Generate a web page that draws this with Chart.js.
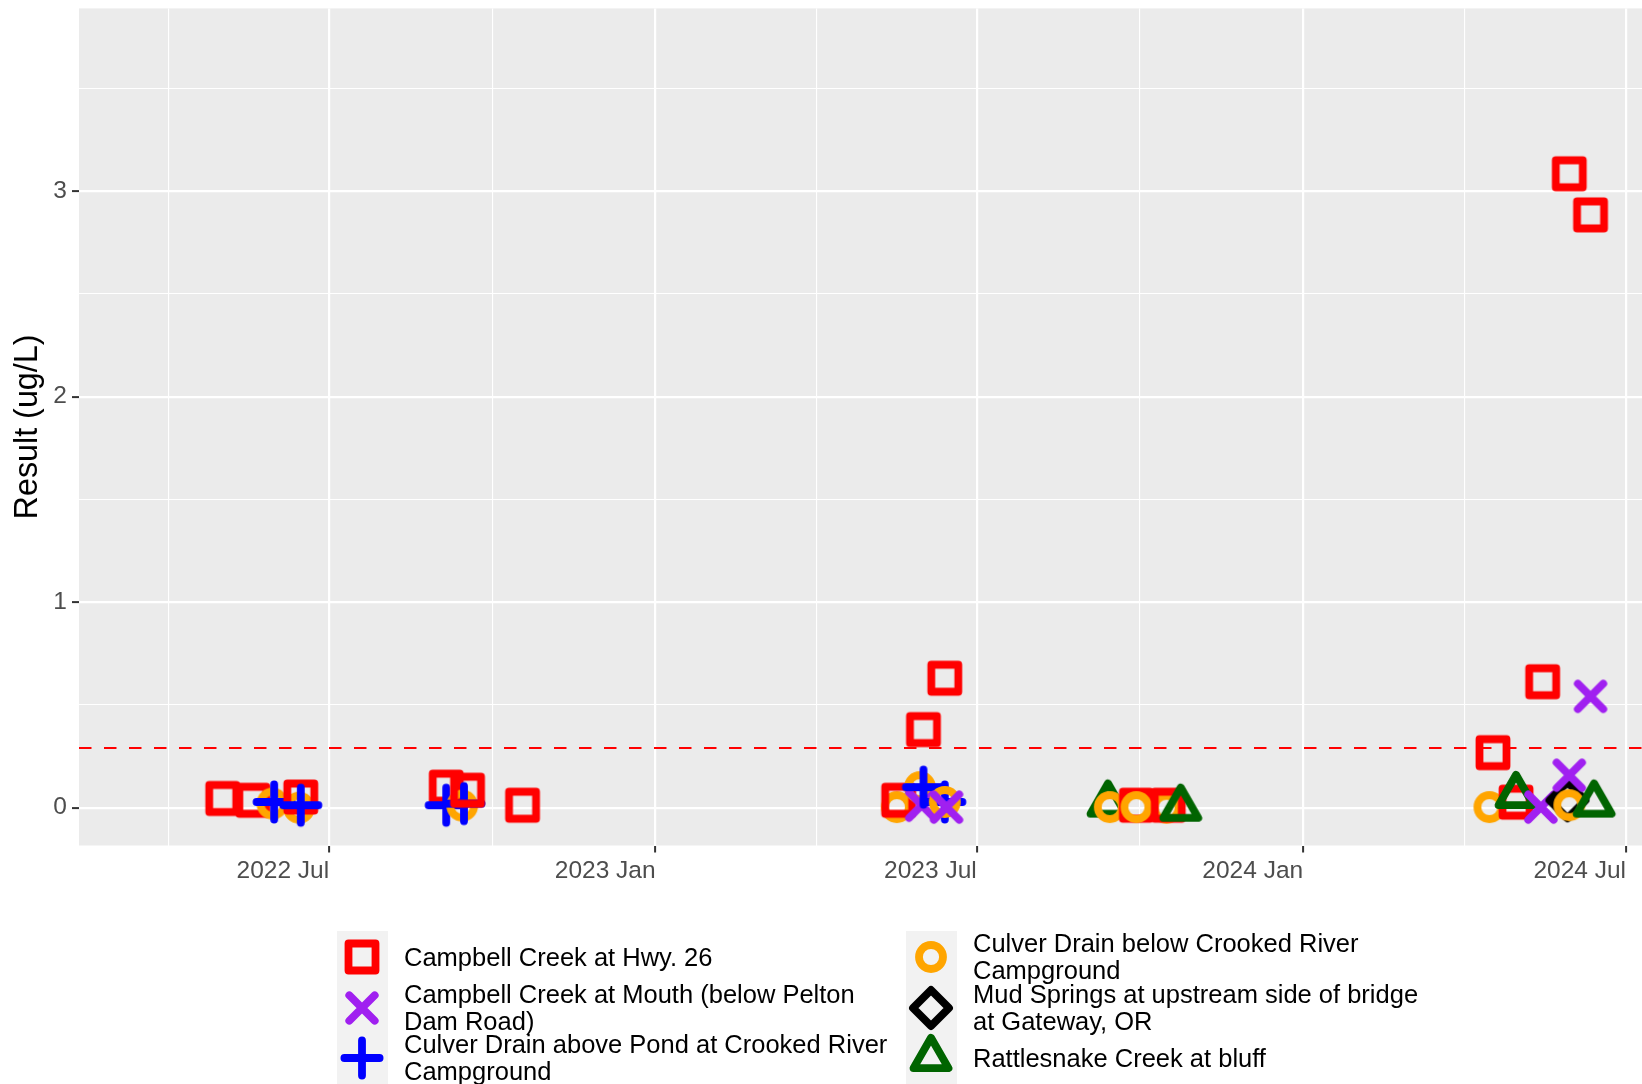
<!DOCTYPE html>
<html>
<head>
<meta charset="utf-8">
<script src="https://cdn.jsdelivr.net/npm/chart.js@4.4.1/dist/chart.umd.min.js"></script>
<style>
    html, body { margin: 0; padding: 0; background: #ffffff; }
    #wrap { position: relative; width: 1642px; height: 1084px; overflow: hidden; font-family: "Liberation Sans", Arial, sans-serif; }
    #grafico { position: absolute; left: 0; top: 0; }
    .key { position: absolute; top: 931px; width: 50.5px; height: 153px; background: #F2F2F2; }
    .lab { position: absolute; font-size: 25.5px; line-height: 27px; white-space: pre; color: #000000; transform: translateY(-50%); }
    .ico { position: absolute; }
</style>
</head>
<body>
<div id="wrap">
    <canvas id="grafico" width="1642" height="1084"></canvas>
    <div id="leyenda"></div>
</div>
<script>
// datos (fecha de muestreo, resultado en ug/L)
const sitios = [
    "Campbell Creek at Hwy. 26",
    "Campbell Creek at Mouth (below Pelton\nDam Road)",
    "Culver Drain above Pond at Crooked River\nCampground",
    "Culver Drain below Crooked River\nCampground",
    "Mud Springs at upstream side of bridge\nat Gateway, OR",
    "Rattlesnake Creek at bluff"
];

const hwy26Fechas = ["2022-05-02", "2022-05-19", "2022-06-15", "2022-09-05", "2022-09-17", "2022-10-18",
    "2023-05-18", "2023-06-01", "2023-06-13", "2023-09-29", "2023-10-17",
    "2024-04-17", "2024-04-30", "2024-05-15", "2024-05-30", "2024-06-11"];
const hwy26Valores = [0.045, 0.036, 0.052, 0.10, 0.085, 0.012,
    0.036, 0.38, 0.63, 0.012, 0.012,
    0.268, 0.027, 0.613, 3.085, 2.885];

const mouthFechas = ["2023-05-31", "2023-06-14", "2024-05-14", "2024-05-30", "2024-06-11"];
const mouthValores = [0.012, 0.003, 0.003, 0.158, 0.542];

const aboveFechas = ["2022-05-31", "2022-06-15", "2022-09-05", "2022-09-15", "2023-06-01", "2023-06-13"];
const aboveValores = [0.028, 0.012, 0.012, 0.02, 0.10, 0.028];

const belowFechas = ["2022-05-30", "2022-06-14", "2022-09-14", "2023-05-17", "2023-05-30", "2023-06-13",
    "2023-09-14", "2023-09-29", "2023-10-16", "2024-04-15", "2024-05-30"];
const belowValores = [0.02, 0.0, 0.01, 0.003, 0.10, 0.028,
    0.003, 0.003, 0.0, 0.003, 0.012];

const mudFechas = ["2024-05-29"];
const mudValores = [0.036];

const rattleFechas = ["2023-09-13", "2023-10-24", "2024-04-30", "2024-06-13"];
const rattleValores = [0.02, 0.0, 0.062, 0.02];

const limite = 0.29; // línea discontinua

const ticksX = ["2022-07-01", "2023-01-01", "2023-07-01", "2024-01-01", "2024-07-01"];
const etiquetasX = ["2022 Jul", "2023 Jan", "2023 Jul", "2024 Jan", "2024 Jul"];
const ticksY = [0, 1, 2, 3];
const limitesX = ["2022-02-10", "2024-07-10"];
const limitesY = [-0.184, 3.89];

// =====================
// utilidades
// =====================
const DIA = 86400000;
const ORIGEN = Date.UTC(2022, 0, 1);
const aDia = s => (Date.parse(s) - ORIGEN) / DIA;

const mayoresX = ticksX.map(aDia);
const cortesX = [aDia("2022-01-01")].concat(mayoresX);
let menoresX = [];
for (let i = 1; i < cortesX.length; i++) menoresX.push((cortesX[i - 1] + cortesX[i]) / 2);
const menoresY = ticksY.map(v => v + 0.5);

const FUENTE = "'Liberation Sans', Arial, sans-serif";
Chart.defaults.font.family = FUENTE;

function marcador(forma, color, s) {
    const c = document.createElement("canvas");
    c.width = 56;
    c.height = 56;
    const g = c.getContext("2d");
    g.translate(28, 28);
    g.scale(s, s);
    g.strokeStyle = color;
    g.lineWidth = 7.8;
    g.lineJoin = "round";
    g.lineCap = "round";
    g.beginPath();
    if (forma === "square") {
        g.rect(-13.5, -13.5, 27, 27);
    } else if (forma === "cross") {
        g.moveTo(-12.7, -12.7); g.lineTo(12.7, 12.7);
        g.moveTo(-12.7, 12.7); g.lineTo(12.7, -12.7);
    } else if (forma === "plus") {
        g.moveTo(-17.6, 0); g.lineTo(17.6, 0);
        g.moveTo(0, -17.6); g.lineTo(0, 17.6);
    } else if (forma === "circle") {
        g.arc(0, 0, 12, 0, Math.PI * 2);
    } else if (forma === "diamond") {
        g.moveTo(0, -18); g.lineTo(18, 0); g.lineTo(0, 18); g.lineTo(-18, 0); g.closePath();
    } else if (forma === "triangle") {
        const r = 20.2;
        g.moveTo(0, -r); g.lineTo(0.866 * r, r / 2); g.lineTo(-0.866 * r, r / 2); g.closePath();
    }
    g.stroke();
    return c;
}

const formas = ["square", "cross", "plus", "circle", "diamond", "triangle"];
const colores = ["#FF0000", "#A020F0", "#0000FF", "#FFA500", "#000000", "#006400"];
const iconos = formas.map((f, i) => marcador(f, colores[i], 1));

const series = [
    [hwy26Fechas, hwy26Valores],
    [mouthFechas, mouthValores],
    [aboveFechas, aboveValores],
    [belowFechas, belowValores],
    [mudFechas, mudValores],
    [rattleFechas, rattleValores]
];

// como en ggplot: todos los puntos en una capa, dibujados por fecha
let puntos = [];
series.forEach((s, i) => {
    s[0].forEach((f, j) => puntos.push({ x: aDia(f), y: s[1][j], s: i }));
});
puntos.sort((a, b) => (a.x - b.x) || (a.s - b.s));

const xMin = aDia(limitesX[0]);
const xMax = aDia(limitesX[1]);

const datasets = [
    {
        label: "limite",
        data: [{ x: xMin, y: limite }, { x: xMax, y: limite }],
        showLine: true,
        borderColor: "#FF0000",
        borderWidth: 2,
        borderDash: [12.5, 12.5],
        pointRadius: 0
    },
    {
        label: "Resultados",
        data: puntos,
        pointStyle: c => iconos[c.raw ? c.raw.s : 0],
        pointRadius: 5
    }
];

// fondo gris del panel
const fondoPanel = {
    id: "fondoPanel",
    beforeDraw(chart) {
        const a = chart.chartArea;
        const ctx = chart.ctx;
        ctx.save();
        ctx.fillStyle = "#EBEBEB";
        ctx.fillRect(a.left, a.top, a.right - a.left, a.bottom - a.top);
        ctx.restore();
    }
};

const esMayorX = v => mayoresX.some(m => Math.abs(m - v) < 1e-6);
const esMayorY = v => ticksY.some(m => Math.abs(m - v) < 1e-6);

const ctx = document.getElementById("grafico");

let chart = new Chart(ctx, {
    type: "scatter",
    data: { datasets: datasets },
    plugins: [fondoPanel],
    options: {
        responsive: false,
        animation: false,
        events: [],
        layout: {
            autoPadding: false,
            padding: { left: 0, right: 0, top: 8.4, bottom: 193.5 }
        },
        plugins: {
            legend: { display: false },
            tooltip: { enabled: false }
        },
        scales: {
            x: {
                type: "linear",
                position: "bottom",
                min: xMin,
                max: xMax,
                afterBuildTicks: s => {
                    s.ticks = menoresX.concat(mayoresX).sort((a, b) => a - b).map(v => ({ value: v }));
                },
                afterFit: s => {
                    s.height = 45;
                    s.paddingLeft = 0;
                    s.paddingRight = 0;
                },
                border: { display: false },
                grid: {
                    color: "#FFFFFF",
                    lineWidth: c => esMayorX(c.tick.value) ? 2.2 : 1.1,
                    tickColor: c => esMayorX(c.tick.value) ? "#333333" : "rgba(0,0,0,0)",
                    tickLength: 7,
                    tickWidth: 2
                },
                ticks: {
                    autoSkip: false,
                    maxRotation: 0,
                    minRotation: 0,
                    align: "end",
                    padding: 4,
                    color: "#4D4D4D",
                    font: { size: 24.5 },
                    callback: v => {
                        const i = mayoresX.findIndex(m => Math.abs(m - v) < 1e-6);
                        return i >= 0 ? etiquetasX[i] : "";
                    }
                }
            },
            y: {
                type: "linear",
                position: "left",
                min: limitesY[0],
                max: limitesY[1],
                afterBuildTicks: s => {
                    s.ticks = ticksY.concat(menoresY).sort((a, b) => a - b).map(v => ({ value: v }));
                },
                afterFit: s => {
                    s.width = 79;
                    s.paddingTop = 0;
                    s.paddingBottom = 0;
                },
                border: { display: false },
                grid: {
                    color: "#FFFFFF",
                    lineWidth: c => esMayorY(c.tick.value) ? 2.2 : 1.1,
                    tickColor: c => esMayorY(c.tick.value) ? "#333333" : "rgba(0,0,0,0)",
                    tickLength: 7,
                    tickWidth: 2
                },
                ticks: {
                    autoSkip: false,
                    padding: 5,
                    color: "#4D4D4D",
                    font: { size: 24.5 },
                    callback: v => esMayorY(v) ? String(Math.round(v)) : ""
                },
                title: {
                    display: true,
                    text: "Result (ug/L)",
                    color: "#000000",
                    font: { size: 32.3 },
                    padding: { top: 8.5, bottom: 0 }
                }
            }
        }
    }
});

// =====================
// leyenda (dos columnas)
// =====================
const leyenda = document.getElementById("leyenda");
const colKey = [337, 906];
const colTexto = [404, 973];
const filaCentro = [957, 1007.5, 1058];

colKey.forEach(x => {
    const k = document.createElement("div");
    k.className = "key";
    k.style.left = x + "px";
    leyenda.appendChild(k);
});

sitios.forEach((nombre, i) => {
    const col = Math.floor(i / 3);
    const fila = i % 3;
    const cx = colKey[col] + 24.5;
    const cy = filaCentro[fila];

    const ico = marcador(formas[i], colores[i], 1);
    ico.className = "ico";
    ico.style.left = (cx - 28) + "px";
    ico.style.top = (cy - 28) + "px";
    leyenda.appendChild(ico);

    const t = document.createElement("div");
    t.className = "lab";
    t.style.left = colTexto[col] + "px";
    t.style.top = cy + "px";
    t.textContent = nombre;
    leyenda.appendChild(t);
});
</script>
</body>
</html>
